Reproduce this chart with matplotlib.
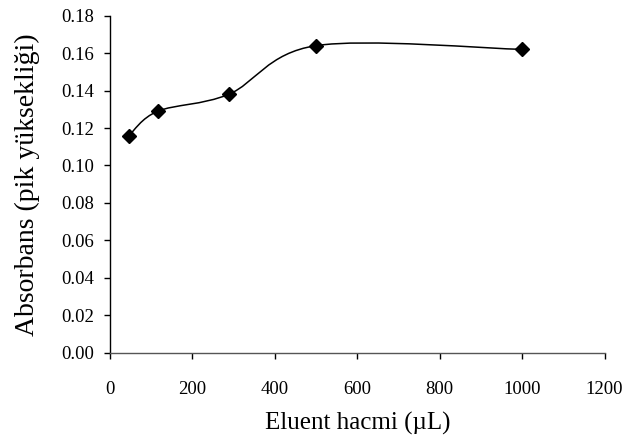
import numpy as np
import matplotlib
matplotlib.use("Agg")
import matplotlib.pyplot as plt
from matplotlib.path import Path
from matplotlib.patches import PathPatch

plt.rcParams['font.family'] = ['Liberation Serif', 'DejaVu Serif']

# Eluent volume (µL) and absorbance (peak height)
volume = [46, 116, 288, 500, 1000]
absorbance = [0.116, 0.129, 0.138, 0.164, 0.162]

x_ticks = [0, 200, 400, 600, 800, 1000, 1200]
y_ticks = [0.00, 0.02, 0.04, 0.06, 0.08, 0.10, 0.12, 0.14, 0.16, 0.18]

fig = plt.figure(figsize=(6.37, 4.48), dpi=100)
ax = fig.add_axes([0.1727, 0.2127, 0.7765, 0.7523])


def smooth_path(xs, ys):
    """Cubic Bezier path through the points (Catmull-Rom style tangents)."""
    pts = np.column_stack([xs, ys]).astype(float)
    n = len(pts)
    verts = [pts[0]]
    codes = [Path.MOVETO]
    for i in range(n - 1):
        p0 = pts[i - 1] if i > 0 else pts[i]
        p1 = pts[i]
        p2 = pts[i + 1]
        p3 = pts[i + 2] if i + 2 < n else pts[i + 1]
        c1 = p1 + (p2 - p0) / 6.0
        c2 = p2 - (p3 - p1) / 6.0
        verts += [c1, c2, p2]
        codes += [Path.CURVE4] * 3
    return Path(verts, codes)


ax.add_patch(PathPatch(smooth_path(volume, absorbance), facecolor='none',
                       edgecolor='black', lw=1.1))
ax.plot(volume, absorbance, linestyle='none', marker='D', color='black',
        markersize=7.5)

ax.set_xlim(0, 1200)
ax.set_ylim(0, 0.18)
ax.set_xticks(x_ticks)
ax.set_xticklabels([str(v) for v in x_ticks])
ax.set_yticks(y_ticks)
ax.set_yticklabels([f"{v:.2f}" for v in y_ticks])

for side in ('top', 'right'):
    ax.spines[side].set_visible(False)
ax.spines['left'].set_color('black')
ax.spines['bottom'].set_color('#555555')
ax.spines['left'].set_linewidth(1.0)
ax.spines['bottom'].set_linewidth(1.0)
ax.tick_params(direction='out', length=4.5, width=1.0, labelsize=13.5,
               colors='black')
ax.tick_params(axis='y', pad=7)
ax.tick_params(axis='x', pad=16)

ax.set_xlabel('Eluent hacmi (µL)', fontsize=18, labelpad=10)
ax.set_ylabel('Absorbans (pik yüksekliği)', fontsize=20, labelpad=15)

fig.savefig('out.png', dpi=100)
